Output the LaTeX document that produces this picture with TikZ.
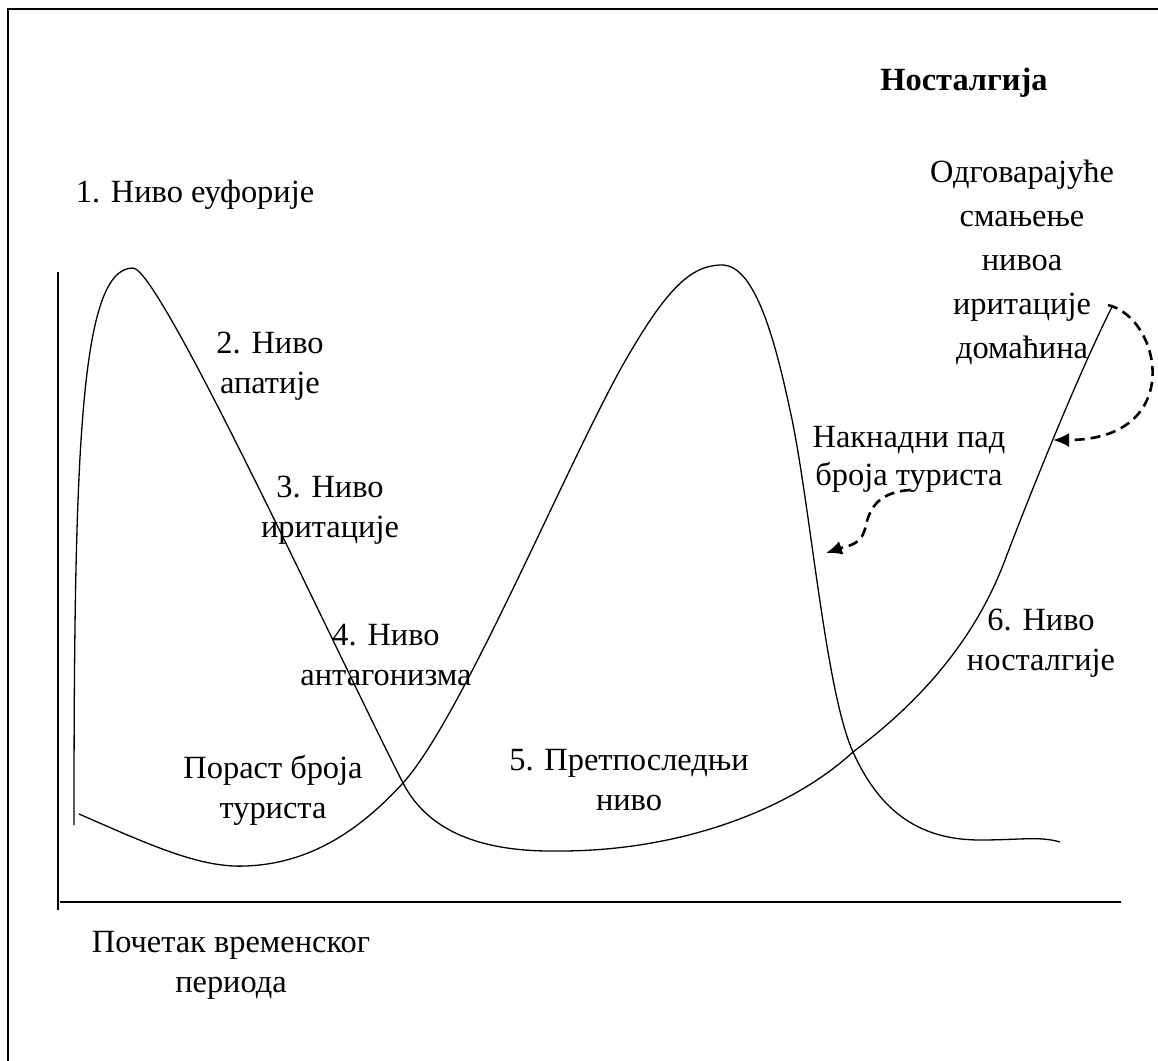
\documentclass[tikz,border=0pt]{standalone}
\usepackage{fontspec}
\setmainfont{Liberation Serif}
\usetikzlibrary{arrows.meta}
\tikzset{
  natpis/.style={align=center, inner sep=0pt, font=\fontsize{16.2}{20}\selectfont},
  kriva/.style={line width=0.65pt},
  osa/.style={line width=0.75pt},
  strelica/.style={->, line width=1.3pt, dash pattern=on 5pt off 3pt},
}
\begin{document}
\begin{tikzpicture}[x=0.5pt, y=-0.5pt, >={Latex[length=8pt,width=7pt]}]
\useasboundingbox (0,0) rectangle (1158,1061);
\clip (0,0) rectangle (1158,1061);
\draw [line width=1pt] (8,9) rectangle (1200,1100);
\draw [osa] (58,272) -- (58,910);
\draw [osa] (60,902) -- (1121,902);
\draw [kriva] (74,825) .. controls (74,450) and (80,268) .. (133,268)
  .. controls (160,268) and (340,660) .. (403,783)
  .. controls (433,841) and (500,852) .. (560,851)
  .. controls (680,851) and (790,810) .. (853,752)
  .. controls (920,702) and (975,640) .. (1005,560)
  .. controls (1040,468) and (1085,360) .. (1112,307);
\draw [kriva] (79,814) .. controls (150,845) and (200,868) .. (245,866)
  .. controls (310,864) and (360,830) .. (403,783)
  .. controls (460,720) and (560,480) .. (620,370)
  .. controls (665,290) and (690,265) .. (722,265)
  .. controls (755,265) and (775,340) .. (790,410)
  .. controls (810,500) and (825,690) .. (853,752)
  .. controls (880,812) and (920,840) .. (980,840)
  .. controls (1020,840) and (1040,836) .. (1060,842);
\node [natpis, font=\fontsize{16.2}{20}\selectfont\bfseries] (naslov) at (964,83) {Носталгија};
\node [natpis] (euforija) at (195,195) {1. Ниво еуфорије};
\node [natpis, font=\fontsize{16.2}{22}\selectfont] (smanjenje) at (1022,262) {Одговарајуће\\смањење\\нивоа\\иритације\\домаћина};
\node [natpis] (apatija) at (270,366) {2. Ниво\\апатије};
\node [natpis] (iritacija) at (330,510) {3. Ниво\\иритације};
\node [natpis] (antagonizam) at (386,655) {4. Ниво\\антагонизма};
\node [natpis] (porast) at (273,790) {Пораст броја\\туриста};
\node [natpis] (pretposlednji) at (629,780) {5. Претпоследњи\\ниво};
\node [natpis] (nostalgija) at (1041,643) {6. Ниво\\носталгије};
\node [natpis, font=\fontsize{16.2}{19}\selectfont] (pad) at (909,459) {Накнадни пад\\броја туриста};
\node [natpis] (pocetak) at (231,965) {Почетак временског\\периода};
\coordinate (vrh) at (1108,305);
\coordinate (uspon) at (1053,440);
\coordinate (ispodpada) at (910,490);
\coordinate (pad-kriva) at (826,553);
\draw [strelica] (vrh) .. controls (1162,318) and (1186,440) .. (uspon);
\draw [strelica] (ispodpada) .. controls (880,492) and (870,507) .. (866,525) .. controls (862,545) and (850,545) .. (pad-kriva);
\end{tikzpicture}
\end{document}
